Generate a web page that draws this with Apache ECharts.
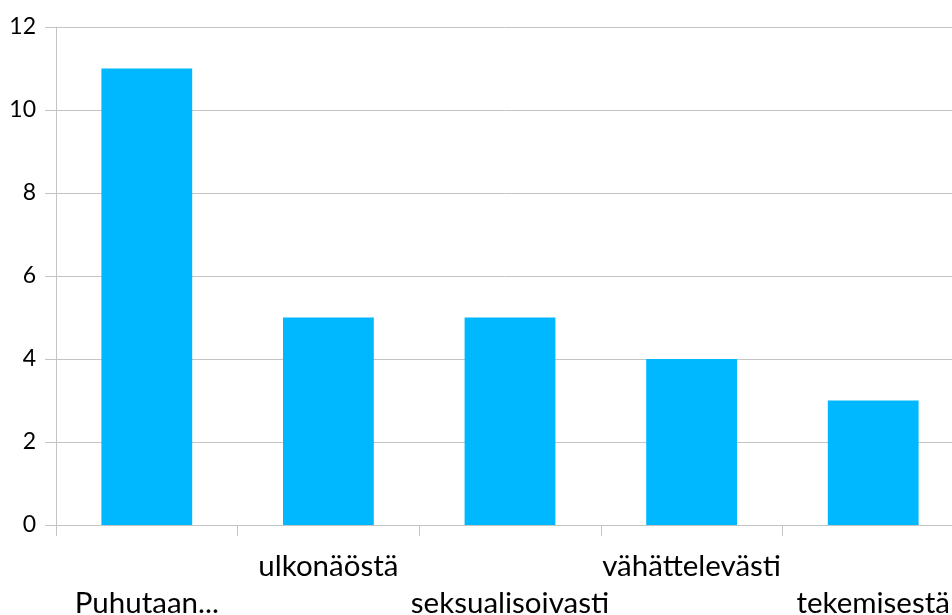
<!DOCTYPE html>
<html>
<head>
<meta charset="utf-8">
<script src="https://cdn.jsdelivr.net/npm/echarts@6/dist/echarts.min.js"></script>
<style>
  html, body { margin: 0; padding: 0; background: #fff; }
  #chart { width: 952px; height: 615px; }
</style>
</head>
<body>
<div id="chart"></div>
<script>
// Category names and counts
const categories = ['Puhutaan...', 'ulkonäöstä', 'seksualisoivasti', 'vähättelevästi', 'tekemisestä'];
const counts = [11, 5, 5, 4, 3];
// Value axis range
const yMin = 0;
const yMax = 12;
const yStep = 2;

const FONT = 'Lato, "Open Sans", sans-serif';
const GRID_GREY = '#c4c4c4';

const chart = echarts.init(document.getElementById('chart'), null, { renderer: 'canvas' });
chart.setOption({
  animation: false,
  // plot area runs past the right edge of the canvas
  grid: { left: 56, top: 27, width: 908, height: 498, containLabel: false, outerBoundsMode: 'none' },
  xAxis: {
    type: 'category',
    data: categories,
    boundaryGap: true,
    axisLine: { show: true, lineStyle: { color: GRID_GREY, width: 1 } },
    axisTick: { show: true, length: 11, alignWithLabel: false, lineStyle: { color: GRID_GREY } },
    axisLabel: {
      interval: 0,
      margin: 23,
      fontFamily: FONT,
      fontSize: 29.5,
      color: '#000',
      lineHeight: 37,
      hideOverlap: false,
      // stagger the labels on two rows
      formatter: (v, i) => (i % 2 === 0 ? '\n' + v : v)
    },
    splitLine: { show: false }
  },
  yAxis: {
    type: 'value',
    min: yMin,
    max: yMax,
    interval: yStep,
    axisLine: { show: true, lineStyle: { color: GRID_GREY, width: 1 } },
    axisTick: { show: true, length: 11, lineStyle: { color: GRID_GREY } },
    axisLabel: { margin: 20, fontFamily: FONT, fontSize: 23, color: '#000' },
    splitLine: { show: true, lineStyle: { color: GRID_GREY, width: 1 } }
  },
  series: [{
    type: 'bar',
    data: counts,
    barWidth: '50%',
    itemStyle: { color: '#00b8ff' }
  }]
});
</script>
</body>
</html>
